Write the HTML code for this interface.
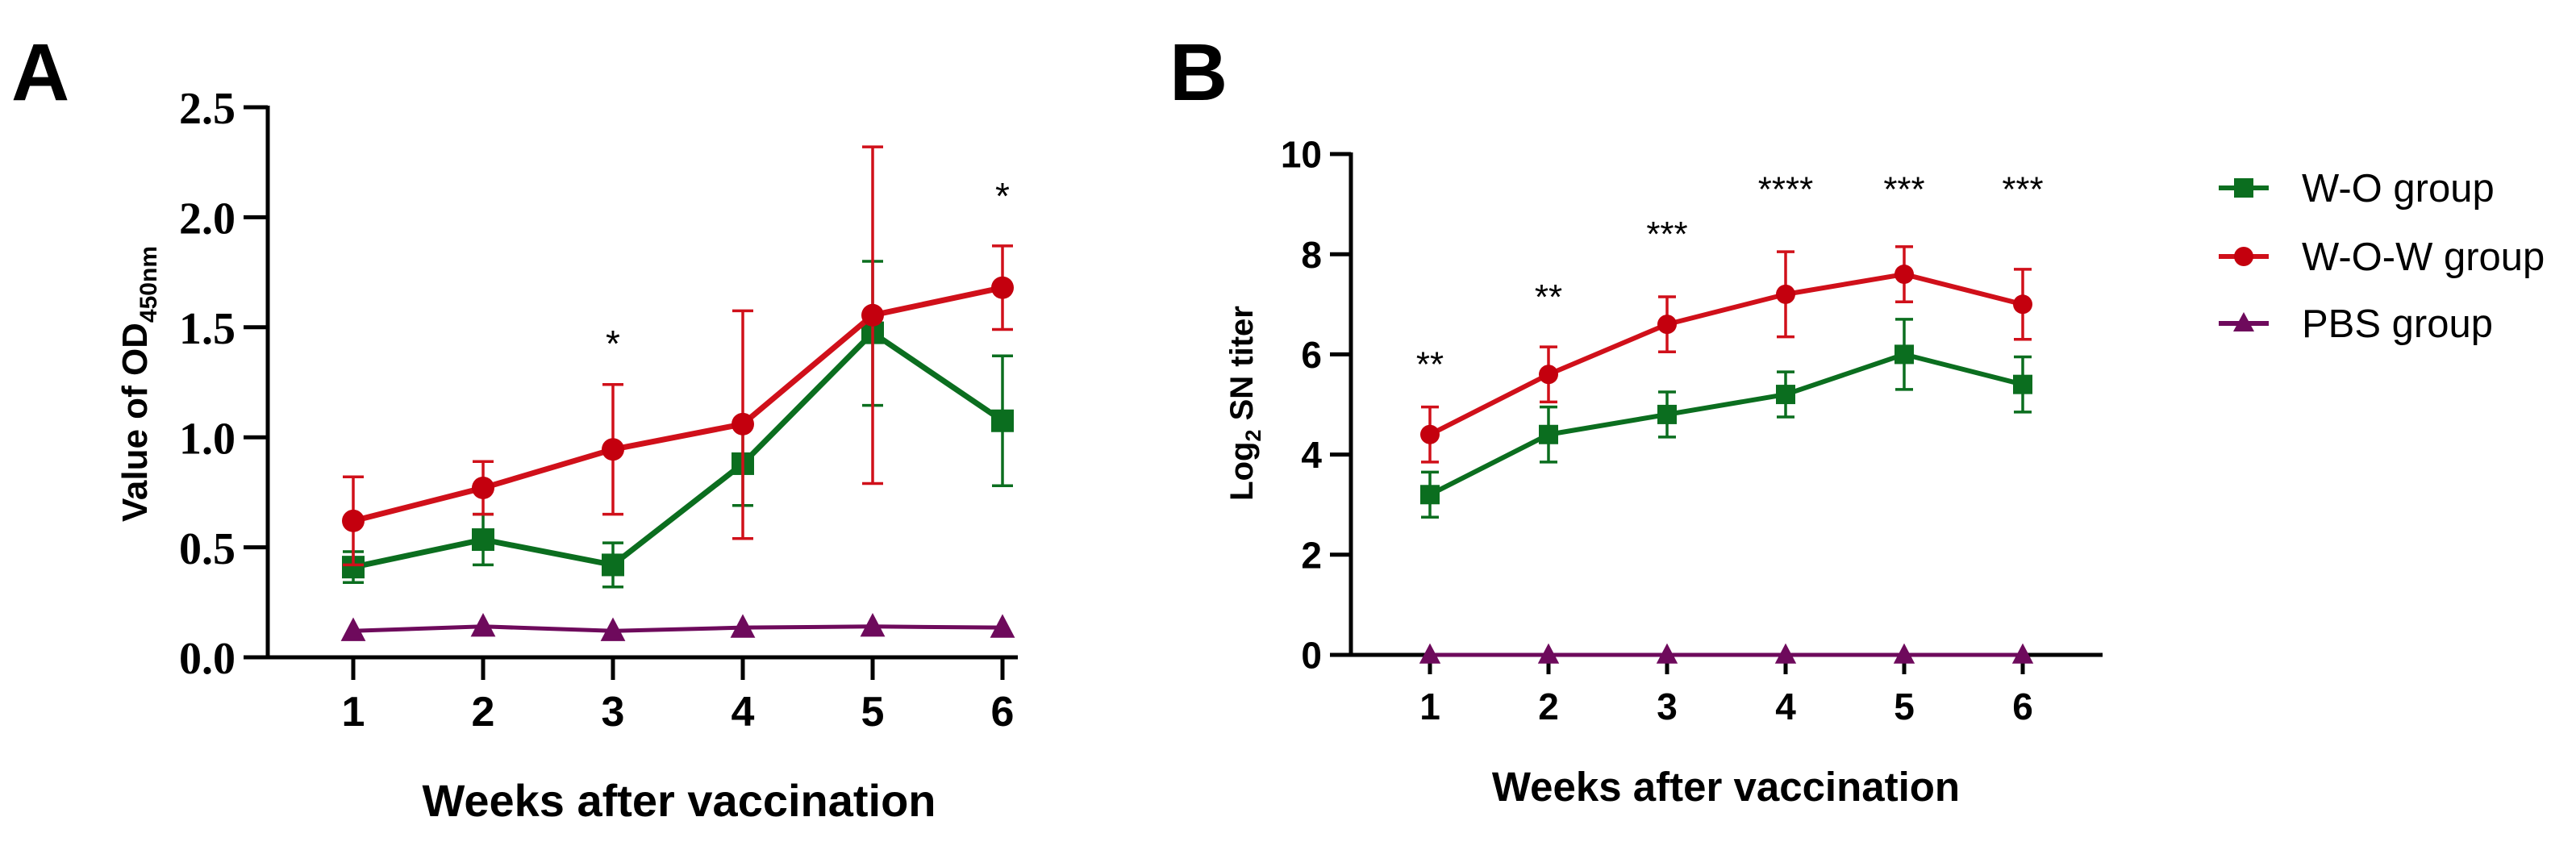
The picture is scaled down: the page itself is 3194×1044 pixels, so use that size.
<!DOCTYPE html>
<html><head><meta charset="utf-8">
<style>
html,body{margin:0;padding:0;background:#fff;}
svg{display:block;}
text{font-family:"Liberation Sans",sans-serif;}
</style></head>
<body>
<svg id="fig" width="3194" height="1044" viewBox="0 0 3194 1044" xmlns="http://www.w3.org/2000/svg">
<rect width="3194" height="1044" fill="#fff"/>
<g id="panelA"></g>
<g id="panelB"></g>
<g id="legend"></g>
</svg>
<script>
const weeks = [1,2,3,4,5,6];
// Panel A (OD450)
const aWOW = [0.62,0.77,0.945,1.06,1.555,1.68];
const aWOWlo = [0.42,0.65,0.65,0.54,0.79,1.49];
const aWOWhi = [0.82,0.89,1.24,1.575,2.32,1.87];
const aWO = [0.41,0.535,0.42,0.88,1.475,1.075];
const aWOlo = [0.34,0.42,0.32,0.69,1.145,0.78];
const aWOhi = [0.48,0.65,0.52,1.07,1.80,1.37];
const aPBS = [0.12,0.14,0.12,0.135,0.14,0.135];
const aTicks = [0,0.5,1.0,1.5,2.0,2.5];
const aTickLabels = ["0.0","0.5","1.0","1.5","2.0","2.5"];
const aStars = ["","","*","","","*"];
const aStarVal = [0,0,1.46,0,0,2.13];
// Panel B (log2 SN titer)
const bWOW = [4.4,5.6,6.6,7.2,7.6,7.0];
const bWOWerr = [0.55,0.55,0.55,0.85,0.55,0.7];
const bWO = [3.2,4.4,4.8,5.2,6.0,5.4];
const bWOerr = [0.45,0.55,0.45,0.45,0.7,0.55];
const bPBS = [0,0,0,0,0,0];
const bTicks = [0,2,4,6,8,10];
const bTickLabels = ["0","2","4","6","8","10"];
const bStars = ["**","**","***","****","***","***"];
const bStarVal = [5.95,7.3,8.55,9.45,9.45,9.45];

const NS="http://www.w3.org/2000/svg";
const GREEN="#0b6e1f", RED="#d0101a", REDM="#c4000e", PURPLE="#6e0a5c";
function mk(parent,tag,attrs){const e=document.createElementNS(NS,tag);for(const k in attrs)e.setAttribute(k,attrs[k]);parent.appendChild(e);return e;}

function drawPanel(g,cfg){
  const xS=w=>cfg.x1+(w-1)*cfg.dx;
  const yS=v=>cfg.y0-(v-cfg.vmin)/(cfg.vmax-cfg.vmin)*(cfg.y0-cfg.ytop);
  let e=mk(g,'line',{x1:cfg.ax,y1:yS(cfg.vmax)-2,x2:cfg.ax,y2:cfg.y0+2,stroke:'#000','stroke-width':cfg.aw});
  
  
  e=mk(g,'line',{x1:cfg.ax-cfg.tl,y1:cfg.y0,x2:cfg.xend,y2:cfg.y0,stroke:'#000','stroke-width':cfg.aw});
  
  
  cfg.ticks.forEach((t,i)=>{
    const y=yS(t);
    let l=mk(g,'line',{x1:cfg.ax-cfg.tl,y1:y,x2:cfg.ax,y2:y,stroke:'#000','stroke-width':cfg.aw});
    
    
    let tx=mk(g,'text',{x:cfg.ax-cfg.tl-10,y:y+cfg.yfs*0.36,'text-anchor':'end','font-size':cfg.yfs,'font-weight':'bold',style:cfg.yfont});
    tx.textContent=cfg.tickLabels[i];
    
    
  });
  weeks.forEach(w=>{
    const x=xS(w);
    let l=mk(g,'line',{x1:x,y1:cfg.y0,x2:x,y2:cfg.y0+cfg.xtl,stroke:'#000','stroke-width':cfg.aw});
    
    
    let tx=mk(g,'text',{x:x,y:cfg.xly,'text-anchor':'middle','font-size':cfg.xfs,'font-weight':'bold'});
    tx.textContent=String(w);
    
    
  });
  function series(vals,lo,hi,color,mcolor,shape,lw,name){
    const sg=mk(g,'g',{});
    
    
    if(lo){
      vals.forEach((v,i)=>{
        const x=xS(weeks[i]);
        const eg=mk(sg,'g',{stroke:color,'stroke-width':cfg.ew,fill:'none'});
        
        
        mk(eg,'line',{x1:x,y1:yS(lo[i]),x2:x,y2:yS(hi[i])});
        mk(eg,'line',{x1:x-cfg.cap,y1:yS(lo[i]),x2:x+cfg.cap,y2:yS(lo[i])});
        mk(eg,'line',{x1:x-cfg.cap,y1:yS(hi[i]),x2:x+cfg.cap,y2:yS(hi[i])});
      });
    }
    const pts=vals.map((v,i)=>xS(weeks[i])+','+yS(v)).join(' ');
    const pl=mk(sg,'polyline',{points:pts,fill:'none',stroke:color,'stroke-width':lw,'stroke-linejoin':'round'});
    
    
    vals.forEach((v,i)=>{
      const x=xS(weeks[i]),y=yS(v),s=cfg.ms;
      let m;
      if(shape==='circle') m=mk(sg,'circle',{cx:x,cy:y,r:s*0.5,fill:mcolor});
      else if(shape==='square') m=mk(sg,'rect',{x:x-s/2,y:y-s/2,width:s,height:s,fill:mcolor});
      else m=mk(sg,'polygon',{points:`${x},${y-s*0.6} ${x-s*0.55},${y+s*0.45} ${x+s*0.55},${y+s*0.45}`,fill:mcolor});
      
      
    });
  }
  series(cfg.pbs,null,null,PURPLE,PURPLE,'tri',cfg.plw,'pbs-group');
  series(cfg.wo,cfg.wolo,cfg.wohi,GREEN,GREEN,'square',cfg.lw,'w-o-group');
  series(cfg.wow,cfg.wowlo,cfg.wowhi,RED,REDM,'circle',cfg.lw,'w-o-w-group');
  cfg.stars.forEach((s,i)=>{
    if(!s) return;
    const t=mk(g,'text',{x:xS(weeks[i]),y:yS(cfg.starVal[i])+cfg.sfs*0.55,'text-anchor':'middle','font-size':cfg.sfs});
    t.textContent=s;
    
    
  });
}

const A=document.getElementById('panelA');
drawPanel(A,{x1:438,dx:161,ax:332,y0:815,ytop:133,vmin:0,vmax:2.5,xend:1262,aw:5,tl:30,xtl:28,
  ticks:aTicks,tickLabels:aTickLabels,yfs:56,yfont:'font-family:"Liberation Serif",serif',xfs:52,xly:900,
  wow:aWOW,wowlo:aWOWlo,wowhi:aWOWhi,wo:aWO,wolo:aWOlo,wohi:aWOhi,pbs:aPBS,
  ew:3.5,cap:13,ms:28,lw:7,plw:5,stars:aStars,starVal:aStarVal,sfs:46});
const bLo=bWOW.map((v,i)=>v-bWOWerr[i]), bHi=bWOW.map((v,i)=>v+bWOWerr[i]);
const gLo=bWO.map((v,i)=>v-bWOerr[i]), gHi=bWO.map((v,i)=>v+bWOerr[i]);
const B=document.getElementById('panelB');
drawPanel(B,{x1:1773,dx:147,ax:1675,y0:812,ytop:191,vmin:0,vmax:10,xend:2607,aw:5,tl:26,xtl:24,
  ticks:bTicks,tickLabels:bTickLabels,yfs:46,yfont:'',xfs:46,xly:892,
  wow:bWOW,wowlo:bLo,wowhi:bHi,wo:bWO,wolo:gLo,wohi:gHi,pbs:bPBS,
  ew:3.5,cap:11,ms:24,lw:6,plw:5,stars:bStars,starVal:bStarVal,sfs:44});

function txt(parent,name,x,y,str,attrs){const t=mk(parent,'text',Object.assign({x:x,y:y},attrs));t.innerHTML=str;return t;}
txt(A,'panel-label-a',14,124,'A',{'font-size':100,'font-weight':'bold'});
txt(B,'panel-label-b',1450,124,'B',{'font-size':100,'font-weight':'bold'});
txt(A,'x-axis-title',842,1012,'Weeks after vaccination',{'font-size':56,'font-weight':'bold','text-anchor':'middle'});
txt(B,'x-axis-title',2140,993,'Weeks after vaccination',{'font-size':51,'font-weight':'bold','text-anchor':'middle'});
txt(A,'y-axis-title',0,0,'Value of OD<tspan font-size="30" dy="12">450nm</tspan>',{'font-size':44,'font-weight':'bold','text-anchor':'middle',transform:'translate(182,476) rotate(-90)'});
txt(B,'y-axis-title',0,0,'Log<tspan font-size="27" dy="10">2</tspan><tspan dy="-10"> SN titer</tspan>',{'font-size':40,'font-weight':'bold','text-anchor':'middle',transform:'translate(1553,500) rotate(-90)'});

const L=document.getElementById('legend');
const legNames=['W-O group','W-O-W group','PBS group'];
const legColors=[GREEN,RED,PURPLE];
const legShapes=['square','circle','tri'];
const legY=[233,318,401];
legNames.forEach((n,i)=>{
  const g=mk(L,'g',{});
  
  
  const y=legY[i],x=2782,c=legColors[i];
  mk(g,'line',{x1:2751,y1:y,x2:2813,y2:y,stroke:c,'stroke-width':6});
  if(legShapes[i]==='square') mk(g,'rect',{x:x-12,y:y-12,width:24,height:24,fill:c});
  else if(legShapes[i]==='circle') mk(g,'circle',{cx:x,cy:y,r:12,fill:REDM});
  else mk(g,'polygon',{points:`${x},${y-14} ${x-13},${y+10} ${x+13},${y+10}`,fill:c});
  const t=mk(g,'text',{x:2854,y:y+17,'font-size':49});
  t.textContent=n;
  
  
});
</script>
</body></html>
